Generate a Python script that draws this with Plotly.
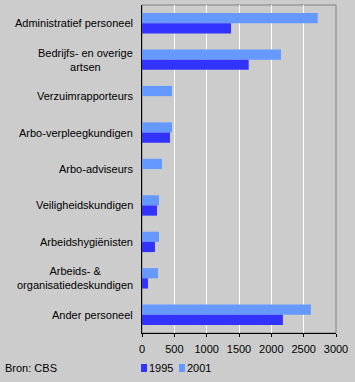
import plotly.graph_objects as go

# ---- data ----
categories = ["Administratief personeel", "Bedrijfs- en overige artsen", "Verzuimrapporteurs",
              "Arbo-verpleegkundigen", "Arbo-adviseurs", "Veiligheidskundigen",
              "Arbeidshygiënisten", "Arbeids- & organisatiedeskundigen", "Ander personeel"]
category_labels = ["Administratief personeel", "Bedrijfs- en overige<br>artsen", "Verzuimrapporteurs",
                   "Arbo-verpleegkundigen", "Arbo-adviseurs", "Veiligheidskundigen",
                   "Arbeidshygiënisten", "Arbeids- &<br>organisatiedeskundigen", "Ander personeel"]
values_1995 = [1377, 1650, None, 433, None, 232, 201, 93, 2179]
values_2001 = [2717, 2149, 464, 464, 309, 263, 263, 247, 2612]
series_names = ["1995", "2001"]
x_tick_values = [0, 500, 1000, 1500, 2000, 2500, 3000]
source_text = "Bron: CBS"

# ---- style ----
W, H = 355, 382
ML, MR, MT, MB = 142, 19, 5, 49
PW, PH = W - ML - MR, H - MT - MB
C1995, C2001 = "#3333FF", "#6699FF"
BG = "#CCCCCC"
FONT = "Arial, Liberation Sans, sans-serif"


def px_x(px):
    return (px - ML) / PW


def px_y(py):
    return (H - MB - py) / PH


fig = go.Figure()
# 2001 first so it sits on top within each group (y axis reversed)
fig.add_trace(go.Bar(y=categories, x=values_2001, name=series_names[1], orientation="h",
                     marker=dict(color=C2001, line=dict(width=0))))
fig.add_trace(go.Bar(y=categories, x=values_1995, name=series_names[0], orientation="h",
                     marker=dict(color=C1995, line=dict(width=0))))

annotations = []
for cat, lab in zip(categories, category_labels):
    annotations.append(dict(xref="paper", yref="y", x=0, y=cat, text=lab, showarrow=False,
                            xanchor="right", yanchor="middle", align="center", xshift=-7,
                            font=dict(family=FONT, size=11, color="black")))

annotations.append(dict(xref="paper", yref="paper", x=px_x(3), y=px_y(368), text=source_text,
                        showarrow=False, xanchor="left", yanchor="middle",
                        font=dict(family=FONT, size=11, color="black")))

shapes = [dict(type="rect", xref="paper", yref="paper", x0=0, x1=1, y0=0, y1=1,
               line=dict(color="#808080", width=1), layer="below")]

legend_items = [(series_names[0], C1995, 141), (series_names[1], C2001, 179)]
for name, col, sx in legend_items:
    shapes.append(dict(type="rect", xref="paper", yref="paper", x0=px_x(sx), x1=px_x(sx + 6),
                       y0=px_y(372), y1=px_y(364), fillcolor=col, line=dict(width=0)))
    annotations.append(dict(xref="paper", yref="paper", x=px_x(sx + 6), y=px_y(368), text=name,
                            showarrow=False, xanchor="left", yanchor="middle",
                            font=dict(family=FONT, size=11, color="black")))

fig.update_layout(
    width=W, height=H,
    margin=dict(l=ML, r=MR, t=MT, b=MB, pad=0),
    paper_bgcolor=BG, plot_bgcolor=BG,
    barmode="group", bargap=0.44, bargroupgap=0,
    showlegend=False,
    font=dict(family=FONT, size=11, color="black"),
    annotations=annotations,
    shapes=shapes,
    xaxis=dict(range=[0, 3000], tickvals=x_tick_values, showgrid=True, gridcolor="white",
               gridwidth=1, zeroline=False, showline=True, linecolor="black", linewidth=1,
               ticks="outside", ticklen=3, tickcolor="black", tickwidth=1, ticklabelstandoff=3,
               tickfont=dict(family=FONT, size=11, color="black"), fixedrange=True),
    yaxis=dict(autorange="reversed", showticklabels=False, showgrid=False, zeroline=False,
               showline=True, linecolor="black", linewidth=1, ticks="", fixedrange=True),
)

fig.write_html("out.html", config=dict(displayModeBar=False),
               post_script="document.body.style.margin='0';document.body.style.overflow='hidden';")
